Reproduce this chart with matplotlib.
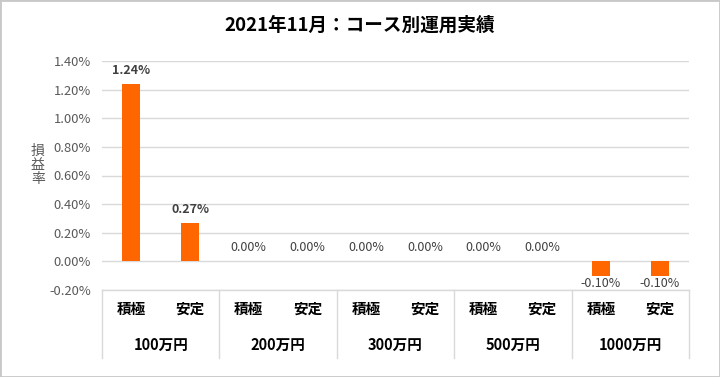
import numpy as np
import matplotlib.pyplot as plt
from matplotlib.patches import Rectangle

plt.rcParams['font.family'] = ['Noto Sans CJK JP', 'DejaVu Sans']

title = '2021年11月：コース別運用実績'
groups = ['100万円', '200万円', '300万円', '500万円', '1000万円']
courses = ['積極', '安定']
values = [1.24, 0.27, 0.00, 0.00, 0.00, 0.00, 0.00, 0.00, -0.10, -0.10]
yticks = [-0.2, 0.0, 0.2, 0.4, 0.6, 0.8, 1.0, 1.2, 1.4]

W, H = 720, 377
fig = plt.figure(figsize=(W / 100, H / 100), dpi=100)
ax = fig.add_axes([102 / W, 1 - 290 / H, (689 - 102) / W, (290 - 61) / H])

x = np.arange(len(values))
ax.bar(x, values, width=0.31, color='#ff6600', zorder=3)

ax.set_xlim(-0.5, len(values) - 0.5)
ax.set_ylim(-0.2, 1.4)
ax.set_yticks(yticks)
ax.set_yticklabels(['%.2f%%' % v for v in yticks], color='#595959', fontsize=9.3)
ax.tick_params(axis='y', length=0, pad=8)
ax.set_xticks([])
ax.grid(axis='y', color='#d9d9d9', linewidth=1, zorder=0)
for s in ax.spines.values():
    s.set_visible(False)

# data labels
for xi, v in zip(x, values):
    if v > 0:
        ax.annotate('%.2f%%' % v, (xi, v), xytext=(0, 5), textcoords='offset points',
                    ha='center', va='bottom', fontsize=9, fontweight='bold', color='#404040')
    elif v == 0:
        ax.annotate('%.2f%%' % v, (xi, v), xytext=(0, 5), textcoords='offset points',
                    ha='center', va='bottom', fontsize=9, color='#404040')
    else:
        ax.annotate('%.2f%%' % v, (xi, v), xytext=(0, -1), textcoords='offset points',
                    ha='center', va='top', fontsize=9, color='#404040')

# category table below the axis
tr = ax.get_xaxis_transform()
ybot = -(358 - 290) / (290 - 61)
ycat = -(309 - 290) / (290 - 61)
ygrp = -(345 - 290) / (290 - 61)
for xi in x:
    ax.text(xi, ycat, courses[xi % 2], transform=tr, ha='center', va='center',
            fontsize=10.5, fontweight='bold', color='#000000')
for gi, g in enumerate(groups):
    ax.text(gi * 2 + 0.5, ygrp, g, transform=tr, ha='center', va='center',
            fontsize=10.5, fontweight='bold', color='#000000')
for b in np.arange(-0.5, len(values), 2):
    ax.plot([b, b], [0, ybot], transform=tr, color='#d9d9d9', linewidth=1, clip_on=False)
ax.plot([-0.5, len(values) - 0.5], [0, 0], transform=tr, color='#d9d9d9', linewidth=1, clip_on=False)

# y label, stacked characters
fig.text(38 / W, 1 - 165 / H, '損\n益\n率', ha='center', va='center', fontsize=10,
         color='#595959', linespacing=1.0)

fig.text(0.5, 1 - 25 / H, title, ha='center', va='center', fontsize=13.4, fontweight='bold')

fig.patches.append(Rectangle((0, 0), 1, 1, transform=fig.transFigure, fill=False,
                             edgecolor='#c8c8c8', linewidth=2))

fig.savefig('out.png', dpi=100)
